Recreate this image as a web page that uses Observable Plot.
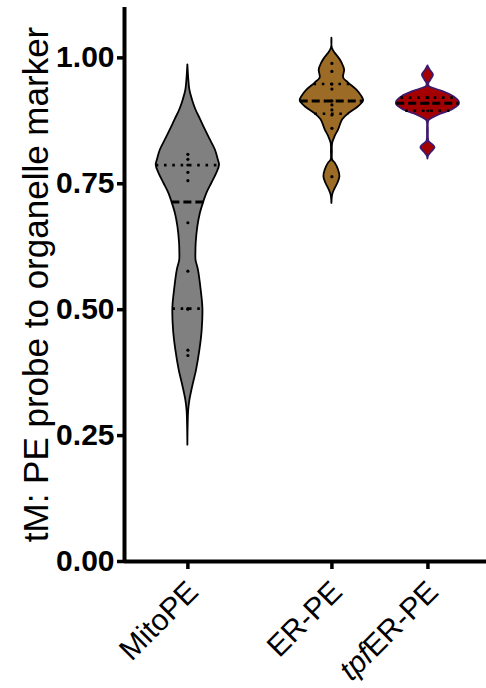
<!DOCTYPE html>
<html>
<head>
<meta charset="utf-8">
<script src="https://cdn.jsdelivr.net/npm/d3@7"></script>
<script src="https://cdn.jsdelivr.net/npm/@observablehq/plot@0.6"></script>
<style>
  html, body { margin: 0; padding: 0; background: #ffffff; }
  #chart svg { display: block; }
</style>
</head>
<body>
<div id="chart"></div>
<script>
// ---- Data ----
const groups = ["MitoPE", "ER-PE", "tpfER-PE"];
const groupSlots = [0, 3, 5];          // category slots along the x axis
const yTicks = [0, 0.25, 0.5, 0.75, 1.0];
const yTitle = "tM: PE probe to organelle marker";

// violin outlines: value levels and half-widths (in slot units)
const mitoLevels = [0.986, 0.960, 0.936, 0.917, 0.897, 0.877, 0.857, 0.837, 0.817, 0.797, 0.787, 0.771, 0.751, 0.731, 0.714, 0.691, 0.665, 0.632, 0.612, 0.598, 0.579, 0.539, 0.502, 0.459, 0.419, 0.380, 0.346, 0.320, 0.300, 0.270, 0.231];
const mitoHalf   = [0.000, 0.017, 0.042, 0.094, 0.167, 0.267, 0.365, 0.469, 0.573, 0.635, 0.660, 0.604, 0.500, 0.396, 0.333, 0.260, 0.208, 0.173, 0.167, 0.170, 0.219, 0.277, 0.313, 0.298, 0.250, 0.181, 0.098, 0.042, 0.017, 0.006, 0.000];
const erLevels = [1.039, 1.019, 1.009, 0.999, 0.989, 0.976, 0.960, 0.950, 0.936, 0.923, 0.9145, 0.903, 0.890, 0.877, 0.857, 0.844, 0.830, 0.813, 0.797, 0.791, 0.777, 0.764, 0.751, 0.738, 0.728, 0.711];
const erHalf   = [0.000, 0.010, 0.069, 0.152, 0.215, 0.265, 0.244, 0.348, 0.521, 0.625, 0.660, 0.556, 0.365, 0.225, 0.140, 0.069, 0.015, 0.010, 0.015, 0.069, 0.140, 0.167, 0.125, 0.056, 0.017, 0.000];
const tpfLevels = [0.984, 0.976, 0.966, 0.956, 0.948, 0.943, 0.9396, 0.933, 0.923, 0.913, 0.9066, 0.8966, 0.887, 0.880, 0.875, 0.855, 0.834, 0.830, 0.822, 0.810, 0.804, 0.799];
const tpfHalf   = [0.000, 0.045, 0.115, 0.063, 0.017, 0.031, 0.104, 0.313, 0.538, 0.650, 0.650, 0.504, 0.244, 0.094, 0.021, 0.010, 0.021, 0.063, 0.146, 0.052, 0.010, 0.000];

// quartiles (Q1, median, Q3)
const q1     = [0.502, 0.889, 0.895];
const median = [0.714, 0.9145, 0.910];
const q3     = [0.787, 0.948, 0.921];

// individual data points
const mitoPoints = [0.8085, 0.7986, 0.7873, 0.7728, 0.7561, 0.6726, 0.5765, 0.501, 0.502, 0.4195, 0.409];
const erPoints   = [0.989, 0.973, 0.948, 0.938, 0.9145, 0.9066, 0.8966, 0.8867, 0.860, 0.764];
const tpfPoints  = [0.921, 0.910, 0.895];

const fills   = ["#808080", "#9c6b26", "#a50000"];
const strokes = ["#000000", "#000000", "#3d1a6e"];

// ---- Build tables ----
const levels = [mitoLevels, erLevels, tpfLevels];
const halves = [mitoHalf, erHalf, tpfHalf];
const pts = [mitoPoints, erPoints, tpfPoints];

const outline = [];
groups.forEach((g, i) => levels[i].forEach((v, j) => outline.push({group: g, slot: groupSlots[i], value: v, half: halves[i][j]})));

function halfAt(i, v) {
  const L = levels[i], H = halves[i];
  for (let j = 0; j < L.length - 1; j++) {
    if ((L[j] >= v && v >= L[j + 1])) {
      const t = (L[j] - v) / (L[j] - L[j + 1]);
      return H[j] + t * (H[j + 1] - H[j]);
    }
  }
  return 0;
}
const qLines = [];
groups.forEach((g, i) => {
  [["q", q1[i]], ["m", median[i]], ["q", q3[i]]].forEach(([kind, v]) => {
    const w = halfAt(i, v);
    qLines.push({group: g, kind, value: v, x1: groupSlots[i] - w, x2: groupSlots[i] + w});
  });
});
const pointRows = [];
groups.forEach((g, i) => pts[i].forEach(v => pointRows.push({group: g, slot: groupSlots[i], value: v})));

const font = "'Liberation Sans', Arial, Helvetica, sans-serif";

const chart = Plot.plot({
  width: 486,
  height: 688,
  marginLeft: 124,
  marginRight: 0,
  marginTop: 7,
  marginBottom: 127,
  style: {background: "#ffffff", fontFamily: font, color: "#000"},
  x: {type: "linear", domain: [-1.32, 6.22]},
  y: {domain: [0, 1.1]},
  marks: [
    ...groups.map((g, i) => Plot.areaX(outline.filter(d => d.group === g), {
      y: "value",
      x1: d => d.slot - d.half,
      x2: d => d.slot + d.half,
      curve: "catmull-rom",
      fill: fills[i],
      stroke: strokes[i],
      strokeWidth: 1.8
    })),
    Plot.ruleY(qLines.filter(d => d.kind === "q"), {
      y: "value", x1: "x1", x2: "x2",
      stroke: "#000", strokeWidth: 2.6, strokeDasharray: "2.6,5.7"
    }),
    Plot.ruleY(qLines.filter(d => d.kind === "m"), {
      y: "value", x1: "x1", x2: "x2",
      stroke: "#000", strokeWidth: 3, strokeDasharray: "8,4"
    }),
    Plot.dot(pointRows, {x: "slot", y: "value", r: 1.6, fill: "#000", stroke: null}),
    Plot.axisY({
      ticks: yTicks, tickFormat: d3.format(".2f"), tickSize: 7, tickPadding: 3,
      strokeWidth: 3.5, fontSize: 30, fontWeight: "bold", label: null
    }),
    Plot.axisX({
      ticks: groupSlots, tickSize: 8, strokeWidth: 3.5, tickFormat: () => "", label: null
    }),
    Plot.text(groupSlots, {
      x: d => d, frameAnchor: "bottom", text: d => groups[groupSlots.indexOf(d)],
      rotate: -45, textAnchor: "end", lineAnchor: "top", dx: -3, dy: 17, fontSize: 30, fill: "#000"
    }),
    Plot.ruleX([-1.32], {y1: 0, y2: 1.1, stroke: "#000", strokeWidth: 4}),
    Plot.ruleY([0], {stroke: "#000", strokeWidth: 4}),
    Plot.text([yTitle], {
      text: d => d, frameAnchor: "left", textAnchor: "middle", rotate: -90, dx: -88, fontSize: 35, fill: "#000"
    })
  ]
});

// italic "tpf" prefix in the third category label
chart.querySelectorAll("text").forEach(t => {
  if (t.textContent === "tpfER-PE") {
    t.textContent = "";
    const ns = "http://www.w3.org/2000/svg";
    const a = document.createElementNS(ns, "tspan");
    a.setAttribute("font-style", "italic");
    a.textContent = "tpf";
    const b = document.createElementNS(ns, "tspan");
    b.textContent = "ER-PE";
    t.appendChild(a); t.appendChild(b);
  }
});
document.getElementById("chart").appendChild(chart);
</script>
</body>
</html>
